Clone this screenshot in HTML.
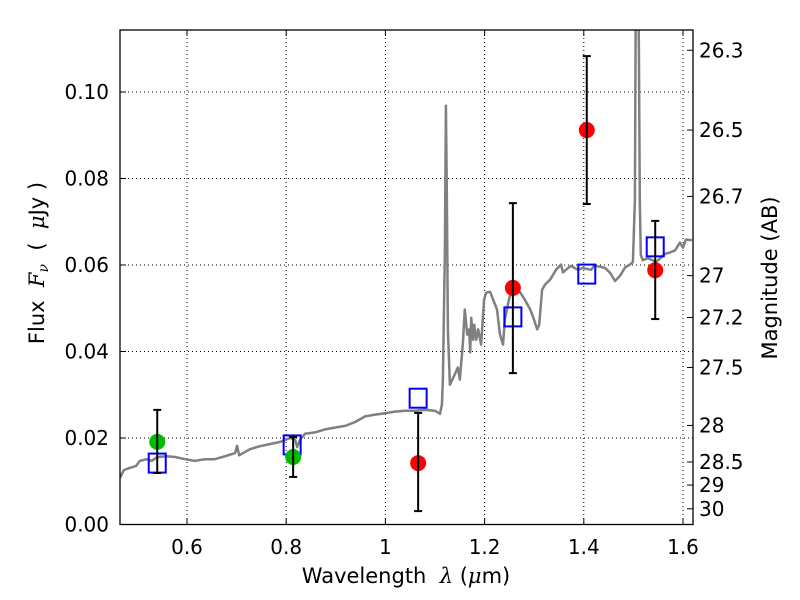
<!DOCTYPE html>
<html><head><meta charset="utf-8"><style>
html,body{margin:0;padding:0;background:#fff;}
svg{display:block;font-family:"DejaVu Sans","Liberation Sans",sans-serif;}
</style></head><body>
<svg id="chart" width="800" height="600" viewBox="0 0 800 600">
<defs><clipPath id="plotclip"><rect x="120" y="30" width="573" height="494.5"/></clipPath></defs>
<rect x="0" y="0" width="800" height="600" fill="#fff"/>
<g id="grid"></g>
<g id="series" clip-path="url(#plotclip)"></g>
<rect x="120" y="30" width="573" height="494.5" fill="none" stroke="#000" stroke-width="1.3"/>
<g id="axes"></g>
<text x="406" y="583" font-size="21" text-anchor="middle" xml:space="preserve">Wavelength  <tspan font-style="italic" font-family="'DejaVu Serif',serif">λ</tspan> (<tspan font-style="italic" font-family="'DejaVu Serif',serif">μ</tspan>m)</text>
<text transform="translate(44,263) rotate(-90)" font-size="21" text-anchor="middle" xml:space="preserve">Flux  <tspan font-style="italic" font-family="'DejaVu Serif',serif">F<tspan font-size="14" dy="4">ν</tspan></tspan><tspan dy="-4">  (  </tspan><tspan font-style="italic" font-family="'DejaVu Serif',serif">μ</tspan>Jy )</text>
<text transform="translate(777,278) rotate(-90)" font-size="21" text-anchor="middle">Magnitude (AB)</text>
</svg>
<script>
const specWl = [0.465,0.473,0.485,0.497,0.505,0.519,0.529,0.540,0.558,0.576,0.596,0.616,0.636,0.656,0.677,0.697,0.701,0.705,0.727,0.747,0.767,0.788,0.808,0.818,0.822,0.828,0.838,0.858,0.878,0.898,0.919,0.939,0.959,0.979,0.999,1.019,1.040,1.060,1.080,1.100,1.110,1.114,1.116,1.120,1.122,1.124,1.126,1.130,1.140,1.146,1.150,1.156,1.160,1.165,1.169,1.171,1.173,1.177,1.179,1.183,1.187,1.193,1.199,1.203,1.211,1.225,1.231,1.237,1.241,1.249,1.255,1.271,1.281,1.292,1.298,1.306,1.310,1.316,1.322,1.332,1.344,1.354,1.358,1.364,1.374,1.388,1.398,1.415,1.421,1.433,1.443,1.453,1.463,1.473,1.483,1.493,1.499,1.503,1.505,1.509,1.511,1.513,1.515,1.519,1.529,1.546,1.564,1.574,1.584,1.594,1.600,1.606,1.618];
const specFlux = [0.0108,0.0126,0.0131,0.0135,0.0147,0.0151,0.0147,0.0156,0.0158,0.0156,0.0151,0.0147,0.0151,0.0151,0.0158,0.0165,0.0182,0.0160,0.0174,0.0181,0.0186,0.0191,0.0200,0.0196,0.0179,0.0196,0.0210,0.0213,0.0220,0.0224,0.0228,0.0237,0.0250,0.0254,0.0257,0.0261,0.0263,0.0263,0.0265,0.0263,0.0256,0.0277,0.0335,0.0635,0.0968,0.0750,0.0450,0.0323,0.0347,0.0363,0.0335,0.0416,0.0497,0.0439,0.0451,0.0398,0.0478,0.0427,0.0462,0.0427,0.0451,0.0416,0.0520,0.0536,0.0538,0.0497,0.0439,0.0416,0.0474,0.0520,0.0543,0.0538,0.0520,0.0497,0.0479,0.0451,0.0462,0.0543,0.0555,0.0566,0.0589,0.0601,0.0583,0.0589,0.0598,0.0589,0.0593,0.0589,0.0598,0.0596,0.0593,0.0582,0.0563,0.0575,0.0594,0.0601,0.0607,0.0750,0.1300,0.1300,0.1100,0.0750,0.0623,0.0611,0.0616,0.0607,0.0626,0.0629,0.0634,0.0652,0.0640,0.0659,0.0657];
const redWl = [1.066,1.257,1.406,1.544];
const redFlux = [0.0142,0.0547,0.0912,0.0588];
const redLo = [0.0031,0.0350,0.0741,0.0475];
const redHi = [0.0258,0.0743,0.1083,0.0702];
const greenWl = [0.540,0.814];
const greenFlux = [0.0191,0.0156];
const greenLo = [0.0119,0.0110];
const greenHi = [0.0265,0.0202];
const modelWl = [0.540,0.812,1.066,1.257,1.406,1.544];
const modelFlux = [0.0142,0.0184,0.0292,0.0480,0.0579,0.0642];
const xTicks = [0.6,0.8,1.0,1.2,1.4,1.6];
const xTickLabels = ["0.6","0.8","1","1.2","1.4","1.6"];
const yTicks = [0,0.02,0.04,0.06,0.08,0.10];
const yTickLabels = ["0.00","0.02","0.04","0.06","0.08","0.10"];
const magTicks = [26.3,26.5,26.7,27,27.2,27.5,28,28.5,29,30];

const NS="http://www.w3.org/2000/svg";
const X0=120,X1=693,Y0=30,Y1=524.5;
function sx(v){return 187+(v-0.6)*496;}
function sy(f){return 524.5-f*4325;}
function magToFlux(m){return Math.pow(10,(23.9-m)/2.5);}
function mk(parent,tag,attrs){const e=document.createElementNS(NS,tag);for(const k in attrs)e.setAttribute(k,attrs[k]);parent.appendChild(e);return e;}
const grid=document.getElementById('grid'),series=document.getElementById('series'),axes=document.getElementById('axes');

xTicks.forEach((t,i)=>{
  const x=sx(t);
  const gl=mk(grid,'line',{x1:x,x2:x,y1:Y0,y2:Y1,stroke:'#000','stroke-width':1,'stroke-dasharray':'1,3'});
  
  
  const tk=mk(axes,'line',{x1:x,x2:x,y1:Y1,y2:Y1-6,stroke:'#000','stroke-width':1});
  
  
  mk(axes,'line',{x1:x,x2:x,y1:Y0,y2:Y0+6,stroke:'#000','stroke-width':1});
  const lb=mk(axes,'text',{x:x,y:554,'font-size':20,'text-anchor':'middle'});
  lb.textContent=xTickLabels[i];
  
  
});
yTicks.forEach((t,i)=>{
  const y=sy(t);
  if(t>0){
    const gl=mk(grid,'line',{x1:X0,x2:X1,y1:y,y2:y,stroke:'#000','stroke-width':1,'stroke-dasharray':'1,3'});
    
    
  }
  const tk=mk(axes,'line',{x1:X0,x2:X0+6,y1:y,y2:y,stroke:'#000','stroke-width':1});
  
  
  const lb=mk(axes,'text',{x:109,y:y+7,'font-size':20,'text-anchor':'end'});
  lb.textContent=yTickLabels[i];
  
  
});
magTicks.forEach(m=>{
  const y=sy(magToFlux(m));
  const tk=mk(axes,'line',{x1:X1,x2:X1-6,y1:y,y2:y,stroke:'#000','stroke-width':1});
  
  
  const lb=mk(axes,'text',{x:699,y:y+7,'font-size':20});
  lb.textContent=String(m);
  
  
});

let d='';
specWl.forEach((w,i)=>{d+=(i?'L':'M')+sx(w).toFixed(1)+','+sy(specFlux[i]).toFixed(1);});
const sp=mk(series,'path',{d:d,fill:'none',stroke:'#808080','stroke-width':2.5,'stroke-linejoin':'round'});



function errbar(w,lo,hi){
  const x=sx(w);
  const g=mk(series,'g',{stroke:'#000','stroke-width':2});
  
  
  mk(g,'line',{x1:x,x2:x,y1:sy(lo),y2:sy(hi)});
  mk(g,'line',{x1:x-4,x2:x+4,y1:sy(lo),y2:sy(lo)});
  mk(g,'line',{x1:x-4,x2:x+4,y1:sy(hi),y2:sy(hi)});
}
modelWl.forEach((w,i)=>{
  const r=mk(series,'rect',{x:sx(w)-8.5,y:sy(modelFlux[i])-9.5,width:17,height:19,fill:'none',stroke:'#0000ff','stroke-width':2});
  
  
});
greenWl.forEach((w,i)=>{
  const c=mk(series,'circle',{cx:sx(w),cy:sy(greenFlux[i]),r:8,fill:'#00bb00'});
  
  
  errbar(w,greenLo[i],greenHi[i]);
});
redWl.forEach((w,i)=>{
  const c=mk(series,'circle',{cx:sx(w),cy:sy(redFlux[i]),r:8,fill:'#ff0000'});
  
  
  errbar(w,redLo[i],redHi[i]);
});
</script>
</body></html>
